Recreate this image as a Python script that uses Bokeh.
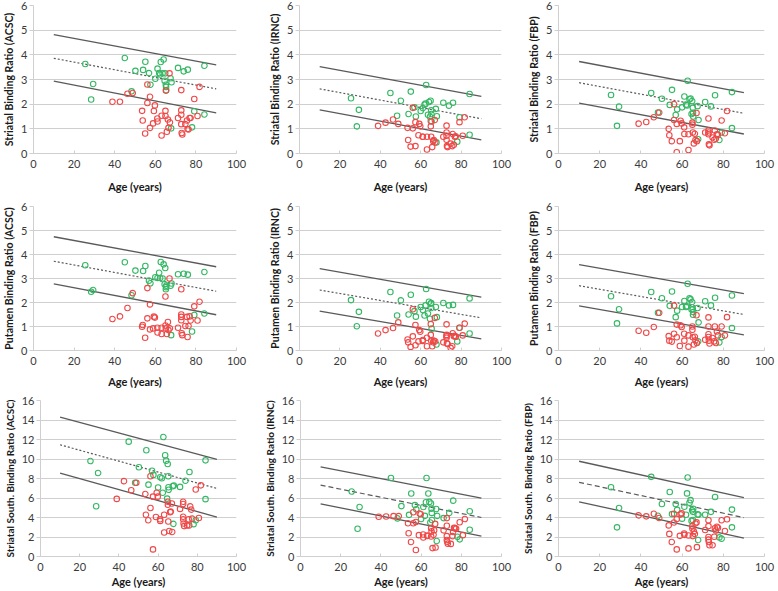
from bokeh.plotting import figure
from bokeh.layouts import column, row
from bokeh.models import Range1d, FixedTicker
from bokeh.embed import file_html
from bokeh.resources import INLINE

# ---------------- data ----------------
green_age = [25.5, 28.4, 29.4, 45.0, 48.3, 50.2, 54.0, 55.1, 56.9, 57.6, 60.0, 61.1, 61.9, 62.4, 62.7, 63.6,
             64.1, 64.6, 64.9, 65.2, 65.3, 65.4, 67.5, 67.8, 68.0, 71.2, 74.0, 76.0, 78.1, 79.2, 84.2, 84.2]
red_age = [38.9, 42.6, 46.3, 48.9, 53.5, 53.8, 55.0, 56.1, 56.1, 57.4, 57.4, 58.9, 59.3, 59.8, 61.0, 61.1,
           63.1, 63.1, 65.0, 65.0, 65.2, 65.7, 66.2, 66.5, 67.0, 67.2, 71.2, 72.8, 72.8, 72.8, 72.8, 73.0,
           73.3, 74.8, 75.6, 75.9, 76.4, 76.9, 77.4, 79.2, 80.8, 81.8]

str_acsc_green = [3.63, 2.19, 2.82, 3.87, 2.52, 3.35, 3.39, 3.72, 3.26, 2.79, 3.03, 3.44, 3.26, 3.20, 3.71, 3.25,
                  3.81, 2.95, 3.25, 2.79, 2.70, 2.56, 3.05, 1.02, 2.89, 3.47, 3.33, 3.40, 1.06, 1.71, 3.56, 1.58]
str_acsc_red = [2.10, 2.10, 2.42, 2.45, 1.73, 1.34, 0.81, 2.80, 2.05, 2.30, 1.04, 1.22, 1.72, 1.95, 1.42, 1.30,
                1.53, 0.73, 1.73, 1.52, 2.55, 0.88, 1.38, 1.04, 3.25, 1.26, 1.44, 2.57, 1.75, 1.57, 1.19, 0.83,
                0.77, 1.19, 1.34, 0.99, 0.98, 1.44, 1.44, 2.21, 1.52, 2.70]
str_irnc_green = [2.24, 1.10, 1.77, 2.45, 1.53, 2.14, 1.60, 2.51, 1.87, 1.50, 1.72, 1.84, 1.98, 2.02, 2.78, 1.57,
                  2.09, 1.49, 2.14, 1.75, 1.60, 1.30, 1.81, 0.45, 1.51, 2.06, 1.94, 2.06, 0.48, 1.47, 2.41, 0.76]
str_irnc_red = [1.12, 1.25, 1.38, 1.20, 1.04, 0.55, 0.28, 1.85, 1.02, 1.27, 0.30, 0.74, 1.20, 1.10, 0.68, 0.68,
                0.68, 0.16, 1.32, 1.10, 0.68, 0.26, 0.50, 0.55, 1.36, 0.45, 0.68, 1.13, 0.85, 0.72, 0.56, 0.30,
                0.26, 0.40, 0.30, 0.79, 0.35, 0.68, 0.70, 1.27, 0.72, 1.47]
str_fbp_green = [2.37, 1.12, 1.90, 2.45, 1.66, 2.22, 1.97, 2.58, 1.56, 1.79, 1.87, 2.31, 1.98, 1.95, 2.95, 2.20,
                 2.23, 1.60, 2.13, 1.85, 1.65, 1.50, 1.92, 0.58, 1.36, 2.09, 1.91, 2.36, 0.55, 0.85, 2.49, 1.03]
str_fbp_red = [1.21, 1.28, 1.47, 1.66, 1.00, 0.74, 0.50, 2.00, 1.36, 1.20, 0.05, 0.50, 1.33, 1.22, 1.06, 0.79,
               0.78, 0.14, 1.25, 1.17, 0.85, 0.41, 0.80, 0.55, 1.64, 0.50, 0.85, 1.42, 0.93, 0.85, 0.78, 0.37,
               0.33, 0.65, 0.56, 0.93, 0.60, 0.78, 0.76, 1.34, 0.82, 1.72]
put_acsc_green = [3.55, 2.45, 2.52, 3.68, 2.30, 3.33, 3.31, 3.52, 2.91, 2.80, 3.05, 3.02, 3.24, 3.02, 3.69, 3.00,
                  3.59, 2.76, 3.44, 2.55, 2.64, 2.70, 2.70, 0.64, 2.79, 3.18, 3.20, 3.16, 0.79, 1.48, 3.27, 1.54]
put_acsc_red = [1.31, 1.42, 1.77, 2.39, 0.99, 1.06, 0.53, 2.60, 1.34, 1.92, 0.88, 0.92, 1.41, 1.37, 0.95, 0.75,
                0.95, 0.69, 2.25, 1.04, 0.92, 0.69, 1.19, 0.85, 3.00, 0.92, 0.95, 2.55, 1.50, 1.40, 1.26, 0.72,
                0.64, 1.02, 1.40, 0.56, 1.02, 1.42, 1.25, 1.84, 1.25, 2.03]
put_irnc_green = [2.10, 1.01, 1.61, 2.44, 1.46, 2.09, 1.50, 2.32, 1.64, 1.41, 1.81, 1.69, 1.46, 1.88, 2.56, 1.54,
                  2.03, 1.32, 1.95, 1.98, 1.77, 0.91, 1.81, 0.25, 1.39, 1.98, 1.88, 1.90, 0.38, 0.95, 2.17, 0.71]
put_irnc_red = [0.71, 0.85, 0.94, 1.17, 0.46, 0.34, 0.15, 1.72, 0.59, 1.06, 0.22, 0.38, 0.85, 0.78, 0.40, 0.44,
                0.53, 0.18, 1.10, 0.65, 0.41, 0.18, 0.34, 0.41, 1.36, 0.38, 0.34, 1.09, 0.65, 0.59, 0.53, 0.30,
                0.27, 0.11, 0.18, 0.72, 0.59, 0.61, 0.57, 0.95, 0.63, 1.12]
put_fbp_green = [2.26, 1.13, 1.72, 2.44, 1.57, 2.18, 1.86, 2.46, 1.39, 1.66, 1.81, 2.06, 1.81, 1.84, 2.78, 2.18,
                 2.13, 1.71, 2.02, 1.72, 1.49, 1.60, 1.77, 0.38, 1.17, 2.05, 1.88, 2.20, 0.34, 0.56, 2.29, 0.94]
put_fbp_red = [0.82, 0.74, 0.98, 1.57, 0.60, 0.41, 0.37, 1.87, 0.70, 1.08, 0.55, 0.19, 1.05, 0.98, 0.70, 0.41,
               0.63, 0.16, 1.00, 0.86, 0.55, 0.25, 0.57, 0.42, 1.47, 0.31, 0.45, 1.38, 1.00, 0.68, 0.56, 0.41,
               0.29, 0.52, 0.38, 1.00, 0.31, 0.79, 0.63, 1.00, 0.63, 1.39]
sth_acsc_green = [9.79, 5.15, 8.56, 11.78, 7.57, 9.16, 10.89, 7.37, 8.80, 8.37, 7.07, 8.13, 8.03, 6.54, 12.25, 10.39,
                  9.83, 5.94, 9.49, 8.23, 7.10, 6.84, 7.20, 3.35, 7.27, 7.14, 7.77, 8.66, 3.32, 3.72, 9.86, 5.88]
sth_acsc_red = [5.91, 7.73, 6.80, 7.57, 6.41, 4.28, 3.72, 8.23, 4.98, 6.14, 0.73, 4.05, 6.54, 6.14, 3.82, 3.65,
                4.28, 2.46, 5.31, 5.61, 3.59, 2.62, 4.55, 4.61, 5.44, 2.52, 4.88, 5.61, 5.38, 4.08, 3.82, 3.39,
                3.12, 3.19, 3.82, 3.19, 5.14, 4.81, 3.88, 6.87, 3.95, 7.30]
sth_irnc_green = [6.66, 2.85, 5.07, 8.05, 3.91, 5.17, 4.27, 6.46, 5.27, 4.84, 3.84, 5.07, 4.17, 5.56, 8.05, 6.46,
                  5.60, 3.48, 5.43, 4.90, 4.47, 3.74, 4.87, 1.59, 4.17, 3.94, 4.47, 5.73, 2.02, 1.76, 4.64, 2.75]
sth_irnc_red = [4.07, 4.10, 4.14, 4.14, 3.41, 2.38, 1.49, 4.54, 3.41, 3.54, 0.66, 2.19, 4.41, 4.34, 2.25, 1.95,
                2.15, 2.10, 2.91, 2.05, 2.58, 0.86, 2.22, 2.70, 3.35, 0.93, 2.68, 3.94, 3.15, 2.09, 1.69, 1.52,
                1.32, 1.29, 2.09, 2.52, 2.95, 2.91, 2.85, 3.51, 2.19, 3.84]
sth_fbp_green = [7.10, 2.99, 4.98, 8.17, 4.18, 5.38, 6.61, 4.35, 5.38, 4.78, 3.88, 5.11, 4.28, 6.47, 8.10, 5.51,
                 5.78, 3.65, 4.75, 3.75, 4.58, 4.90, 4.32, 1.69, 4.28, 4.28, 4.58, 6.11, 1.96, 1.83, 4.81, 2.99]
sth_fbp_red = [4.22, 4.12, 4.38, 3.95, 3.19, 2.32, 1.49, 4.38, 3.49, 3.85, 0.73, 2.12, 4.32, 4.42, 2.36, 2.22,
               2.16, 0.83, 3.12, 2.86, 2.09, 2.56, 2.32, 3.39, 3.50, 0.96, 2.72, 3.72, 3.12, 2.00, 1.73, 1.49,
               1.16, 1.16, 2.03, 2.89, 2.66, 3.05, 2.95, 3.72, 2.62, 3.82]

# regression / reference lines, evaluated at ages 10 and 90
line_age = [10, 90]
str_acsc_upper, str_acsc_mid, str_acsc_lower = [4.82, 3.59], [3.86, 2.62], [2.93, 1.65]
str_irnc_upper, str_irnc_mid, str_irnc_lower = [3.52, 2.32], [2.62, 1.41], [1.77, 0.55]
str_fbp_upper, str_fbp_mid, str_fbp_lower = [3.73, 2.47], [2.87, 1.63], [2.04, 0.79]
put_acsc_upper, put_acsc_mid, put_acsc_lower = [4.74, 3.49], [3.72, 2.47], [2.78, 1.49]
put_irnc_upper, put_irnc_mid, put_irnc_lower = [3.41, 2.22], [2.52, 1.36], [1.64, 0.48]
put_fbp_upper, put_fbp_mid, put_fbp_lower = [3.58, 2.37], [2.70, 1.50], [1.86, 0.65]
sth_acsc_upper, sth_acsc_mid, sth_acsc_lower = [14.30, 9.97], [11.46, 6.98], [8.54, 4.05]
sth_irnc_upper, sth_irnc_mid, sth_irnc_lower = [9.20, 5.99], [7.32, 4.00], [5.40, 2.09]
sth_fbp_upper, sth_fbp_mid, sth_fbp_lower = [9.77, 6.05], [7.61, 3.99], [5.61, 1.89]

x_ticks = [0, 20, 40, 60, 80, 100]
y_ticks_small = [0, 1, 2, 3, 4, 5, 6]
y_ticks_large = [0, 2, 4, 6, 8, 10, 12, 14, 16]

x_label = "Age (years)"

GREEN = "#34b864"
RED = "#f04848"
LINE = "#5a5a5a"
GRID = "#cfcfcf"
FONT = "Lato"


def panel(ylabel, yticks, green, red, upper, mid, lower, mid_dash,
          w, h, bl, br, bt, bb, ylab_size, xlab_standoff):
    p = figure(width=w, height=h, x_range=Range1d(0, 100), y_range=Range1d(0, yticks[-1]),
               output_backend="svg", toolbar_location=None,
               min_border_left=bl, min_border_right=br, min_border_top=bt, min_border_bottom=bb)
    p.outline_line_color = None
    p.background_fill_color = "white"
    p.xgrid.visible = False
    p.ygrid.grid_line_color = GRID
    p.ygrid.grid_line_width = 1
    p.xaxis.ticker = FixedTicker(ticks=x_ticks)
    p.yaxis.ticker = FixedTicker(ticks=yticks)
    for ax in (p.xaxis[0], p.yaxis[0]):
        ax.axis_line_color = GRID
        ax.major_tick_line_color = GRID
        ax.minor_tick_line_color = None
        ax.major_label_text_font = FONT
        ax.major_label_text_font_size = "11px"
        ax.major_label_text_color = "#3a3a3a"
        ax.axis_label_text_font = FONT
        ax.axis_label_text_font_style = "bold"
        ax.axis_label_text_color = "#1a1a1a"
    p.yaxis.major_tick_out = 4
    p.yaxis.major_tick_in = 0
    p.yaxis.major_label_standoff = 2
    p.xaxis.major_tick_out = 0
    p.xaxis.major_tick_in = 3
    p.xaxis.major_label_standoff = 6
    p.xaxis.axis_label = x_label
    p.xaxis.axis_label_text_font_size = "11px"
    p.xaxis.axis_label_standoff = xlab_standoff
    p.yaxis.axis_label = ylabel
    p.yaxis.axis_label_text_font_size = ylab_size
    p.yaxis.axis_label_standoff = 3

    p.line(line_age, upper, line_color=LINE, line_width=1.3)
    p.line(line_age, lower, line_color=LINE, line_width=1.3)
    p.line(line_age, mid, line_color=LINE, line_width=1.2, line_dash=mid_dash)

    p.scatter(green_age, green, marker="circle", size=5.5, fill_color=None,
              line_color=GREEN, line_width=1.1)
    p.scatter(red_age, red, marker="circle", size=5.5, fill_color=None,
              line_color=RED, line_width=1.1)
    return p


W = [260, 258, 259]
H = [195, 195, 200]
BL = [31, 39, 40]
BR = [24, 17, 13]
row_top = [5, 11, 10]
row_bot = [42, 36, 29]
row_xstand = [9, 7, 1]

specs = [
    [("Striatal Binding Ratio (ACSC)", y_ticks_small, str_acsc_green, str_acsc_red, str_acsc_upper, str_acsc_mid, str_acsc_lower, "2 2"),
     ("Striatal Binding Ratio (IRNC)", y_ticks_small, str_irnc_green, str_irnc_red, str_irnc_upper, str_irnc_mid, str_irnc_lower, "2 2"),
     ("Striatal Binding Ratio (FBP)", y_ticks_small, str_fbp_green, str_fbp_red, str_fbp_upper, str_fbp_mid, str_fbp_lower, "2 2")],
    [("Putamen Binding Ratio (ACSC)", y_ticks_small, put_acsc_green, put_acsc_red, put_acsc_upper, put_acsc_mid, put_acsc_lower, "2 2"),
     ("Putamen Binding Ratio (IRNC)", y_ticks_small, put_irnc_green, put_irnc_red, put_irnc_upper, put_irnc_mid, put_irnc_lower, "2 2"),
     ("Putamen Binding Ratio (FBP)", y_ticks_small, put_fbp_green, put_fbp_red, put_fbp_upper, put_fbp_mid, put_fbp_lower, "2 2")],
    [("Striatal South. Binding Ratio (ACSC)", y_ticks_large, sth_acsc_green, sth_acsc_red, sth_acsc_upper, sth_acsc_mid, sth_acsc_lower, "2 2"),
     ("Striatal South. Binding Ratio (IRNC)", y_ticks_large, sth_irnc_green, sth_irnc_red, sth_irnc_upper, sth_irnc_mid, sth_irnc_lower, "5 3"),
     ("Striatal South. Binding Ratio (FBP)", y_ticks_large, sth_fbp_green, sth_fbp_red, sth_fbp_upper, sth_fbp_mid, sth_fbp_lower, "5 3")],
]

rows = []
for ri, rspec in enumerate(specs):
    figs = []
    for ci, s in enumerate(rspec):
        ylab_size = "10.5px" if ri < 2 else "10px"
        figs.append(panel(*s, w=W[ci], h=H[ri], bl=BL[ci], br=BR[ci], bt=row_top[ri], bb=row_bot[ri],
                          ylab_size=ylab_size, xlab_standoff=row_xstand[ri]))
    rows.append(row(*figs))

layout = column(*rows)
open("out.html", "w").write(file_html(layout, INLINE))
